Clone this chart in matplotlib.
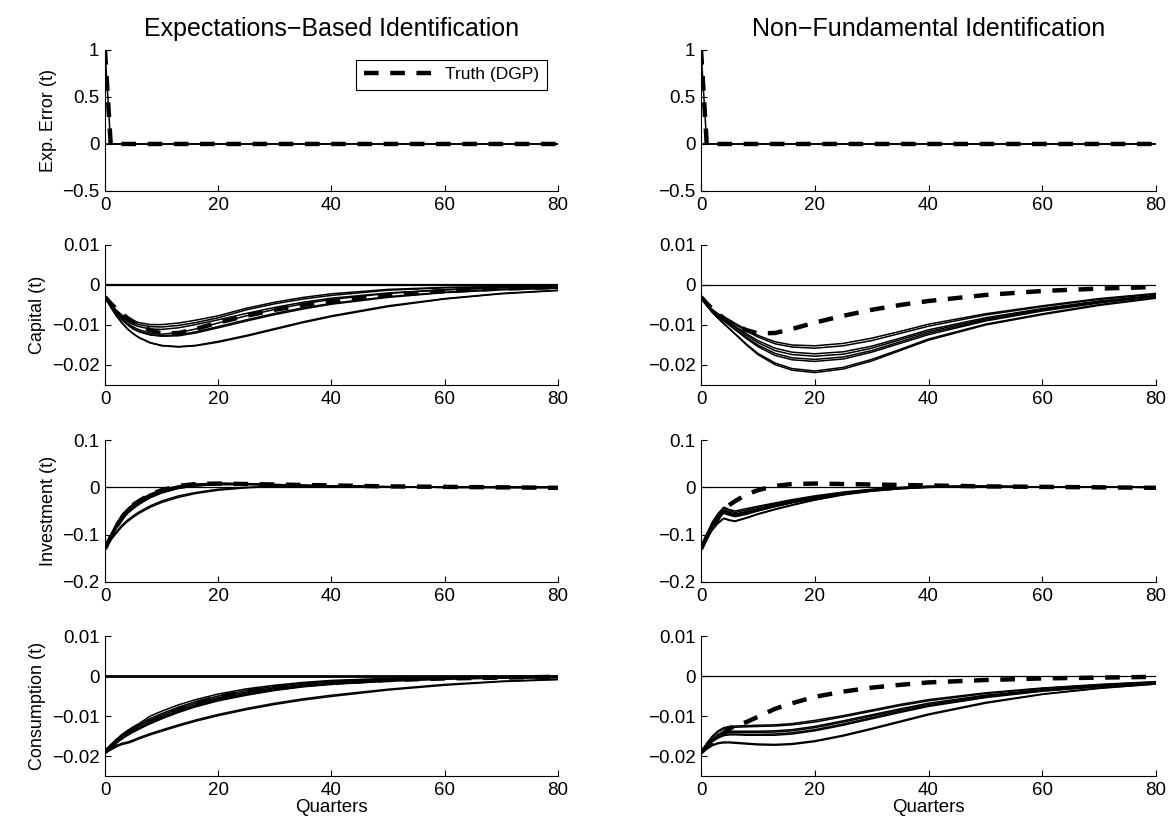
import numpy as np
import matplotlib.pyplot as plt
from matplotlib.ticker import FuncFormatter

plt.rcParams['font.family'] = ['Liberation Sans', 'DejaVu Sans']

# horizon (quarters) at which the responses are stored
Q = [0, 1, 2, 3, 4, 5, 6, 8, 10, 13, 16, 20, 25, 30, 35, 40, 50, 60, 70, 80]

# ---- true responses (DGP) ----
err_true = [1.0, 0, 0, 0, 0, 0, 0, 0, 0, 0, 0, 0, 0, 0, 0, 0, 0, 0, 0, 0]
cap_true = [-0.0030, -0.0046, -0.0060, -0.0072, -0.0083, -0.0092, -0.0100, -0.0113, -0.0121, -0.0120,
            -0.0110, -0.0094, -0.0077, -0.0062, -0.0050, -0.0040, -0.0025, -0.0015, -0.0009, -0.0005]
inv_true = [-0.130, -0.105, -0.083, -0.065, -0.046, -0.037, -0.029, -0.015, -0.006, 0.003,
            0.007, 0.008, 0.007, 0.006, 0.005, 0.004, 0.002, 0.001, 0.0, -0.001]
con_true = [-0.0190, -0.0177, -0.0165, -0.0153, -0.0142, -0.0132, -0.0124, -0.0115, -0.0102, -0.0082,
            -0.0068, -0.0052, -0.0039, -0.0029, -0.0022, -0.0016, -0.0010, -0.0006, -0.0004, -0.0002]

# ---- estimated responses, expectations-based identification ----
err_eb = [[1.0, 0, 0, 0, 0, 0, 0, 0, 0, 0, 0, 0, 0, 0, 0, 0, 0, 0, 0, 0]]
cap_eb = [
    [-0.003, -0.0048, -0.0063, -0.0075, -0.0084, -0.0090, -0.0094, -0.0099, -0.0099, -0.0095, -0.0088, -0.0077, -0.0058, -0.0043, -0.0031, -0.0022, -0.0011, -0.0006, -0.0004, -0.0003],
    [-0.003, -0.0049, -0.0065, -0.0077, -0.0087, -0.0094, -0.0099, -0.0104, -0.0105, -0.0101, -0.0094, -0.0082, -0.0062, -0.0047, -0.0035, -0.0026, -0.0013, -0.0007, -0.0005, -0.0004],
    [-0.003, -0.0050, -0.0067, -0.0080, -0.0091, -0.0099, -0.0104, -0.0110, -0.0111, -0.0107, -0.0099, -0.0087, -0.0071, -0.0056, -0.0043, -0.0033, -0.0020, -0.0012, -0.0007, -0.0005],
    [-0.003, -0.0051, -0.0069, -0.0084, -0.0096, -0.0105, -0.0112, -0.0120, -0.0123, -0.0119, -0.0110, -0.0095, -0.0077, -0.0061, -0.0047, -0.0036, -0.0021, -0.0012, -0.0007, -0.0004],
    [-0.003, -0.0052, -0.0071, -0.0087, -0.0099, -0.0109, -0.0116, -0.0124, -0.0127, -0.0125, -0.0117, -0.0104, -0.0087, -0.0071, -0.0057, -0.0046, -0.0029, -0.0018, -0.0011, -0.0007],
    [-0.003, -0.0052, -0.0071, -0.0087, -0.0100, -0.0110, -0.0117, -0.0125, -0.0128, -0.0127, -0.0120, -0.0107, -0.0090, -0.0074, -0.0060, -0.0048, -0.0031, -0.0019, -0.0012, -0.0008],
    [-0.003, -0.0055, -0.0077, -0.0095, -0.0110, -0.0122, -0.0132, -0.0145, -0.0152, -0.0155, -0.0152, -0.0143, -0.0128, -0.0111, -0.0094, -0.0079, -0.0054, -0.0035, -0.0022, -0.0014],
    [-0.003, -0.0055, -0.0077, -0.0095, -0.0110, -0.0122, -0.0131, -0.0144, -0.0151, -0.0154, -0.0151, -0.0141, -0.0126, -0.0109, -0.0092, -0.0077, -0.0052, -0.0034, -0.0021, -0.0013],
]
inv_eb = [
    [-0.128, -0.100, -0.077, -0.058, -0.045, -0.035, -0.027, -0.014, -0.005, 0.003, 0.007, 0.009, 0.008, 0.006, 0.004, 0.003, 0.0015, 0.0005, 0.0, 0.0],
    [-0.130, -0.102, -0.079, -0.060, -0.047, -0.037, -0.029, -0.016, -0.007, 0.002, 0.006, 0.008, 0.007, 0.006, 0.004, 0.003, 0.0015, 0.0005, 0.0, 0.0],
    [-0.132, -0.104, -0.082, -0.063, -0.050, -0.040, -0.032, -0.018, -0.009, 0.000, 0.005, 0.008, 0.007, 0.005, 0.004, 0.003, 0.001, 0.0005, 0.0, 0.0],
    [-0.128, -0.106, -0.085, -0.066, -0.053, -0.043, -0.034, -0.020, -0.010, -0.001, 0.004, 0.007, 0.007, 0.005, 0.004, 0.003, 0.001, 0.0, 0.0, 0.0],
    [-0.130, -0.108, -0.087, -0.068, -0.055, -0.045, -0.036, -0.022, -0.012, -0.002, 0.003, 0.006, 0.006, 0.005, 0.004, 0.003, 0.001, 0.0, 0.0, 0.0],
    [-0.126, -0.103, -0.083, -0.066, -0.054, -0.044, -0.035, -0.021, -0.011, -0.002, 0.003, 0.006, 0.006, 0.005, 0.003, 0.002, 0.001, 0.0, 0.0, 0.0],
    [-0.130, -0.112, -0.097, -0.083, -0.072, -0.063, -0.055, -0.042, -0.032, -0.021, -0.013, -0.006, -0.001, 0.002, 0.002, 0.002, 0.001, 0.0, 0.0, 0.0],
    [-0.128, -0.110, -0.094, -0.080, -0.069, -0.060, -0.052, -0.039, -0.029, -0.018, -0.011, -0.004, 0.000, 0.002, 0.002, 0.002, 0.001, 0.0, 0.0, 0.0],
]
con_eb = [
    [-0.0190, -0.0172, -0.0158, -0.0146, -0.0136, -0.0127, -0.0119, -0.0100, -0.0088, -0.0072, -0.0059, -0.0045, -0.0032, -0.0023, -0.0016, -0.0011, -0.0006, -0.0003, -0.0002, -0.0001],
    [-0.0190, -0.0174, -0.0160, -0.0148, -0.0138, -0.0129, -0.0121, -0.0106, -0.0094, -0.0078, -0.0064, -0.0050, -0.0036, -0.0026, -0.0018, -0.0013, -0.0007, -0.0004, -0.0002, -0.0001],
    [-0.0192, -0.0177, -0.0163, -0.0151, -0.0141, -0.0132, -0.0124, -0.0110, -0.0098, -0.0082, -0.0068, -0.0054, -0.0040, -0.0029, -0.0021, -0.0015, -0.0008, -0.0005, -0.0003, -0.0002],
    [-0.0190, -0.0178, -0.0166, -0.0155, -0.0145, -0.0136, -0.0128, -0.0114, -0.0102, -0.0086, -0.0072, -0.0057, -0.0043, -0.0032, -0.0024, -0.0018, -0.0010, -0.0006, -0.0004, -0.0003],
    [-0.0193, -0.0180, -0.0168, -0.0157, -0.0147, -0.0139, -0.0131, -0.0117, -0.0105, -0.0089, -0.0075, -0.0060, -0.0046, -0.0035, -0.0026, -0.0020, -0.0012, -0.0007, -0.0005, -0.0004],
    [-0.0188, -0.0178, -0.0167, -0.0157, -0.0148, -0.0140, -0.0133, -0.0119, -0.0107, -0.0091, -0.0077, -0.0062, -0.0048, -0.0036, -0.0027, -0.0021, -0.0013, -0.0008, -0.0005, -0.0004],
    [-0.0193, -0.0185, -0.0177, -0.0171, -0.0168, -0.0163, -0.0157, -0.0147, -0.0138, -0.0125, -0.0113, -0.0099, -0.0084, -0.0071, -0.0060, -0.0051, -0.0035, -0.0023, -0.0014, -0.0009],
    [-0.0190, -0.0182, -0.0174, -0.0168, -0.0165, -0.0160, -0.0154, -0.0144, -0.0135, -0.0122, -0.0110, -0.0096, -0.0081, -0.0068, -0.0057, -0.0048, -0.0033, -0.0021, -0.0013, -0.0008],
]

# ---- estimated responses, non-fundamental identification ----
err_nf = [[1.0, 0, 0, 0, 0, 0, 0, 0, 0, 0, 0, 0, 0, 0, 0, 0, 0, 0, 0, 0]]
cap_nf = [
    [-0.003, -0.0048, -0.0062, -0.0072, -0.0080, -0.0088, -0.0096, -0.0112, -0.0126, -0.0142, -0.0150, -0.0152, -0.0146, -0.0133, -0.0116, -0.0098, -0.0072, -0.0052, -0.0034, -0.0021],
    [-0.003, -0.0048, -0.0062, -0.0073, -0.0081, -0.0089, -0.0098, -0.0115, -0.0130, -0.0147, -0.0155, -0.0158, -0.0152, -0.0139, -0.0121, -0.0103, -0.0075, -0.0054, -0.0036, -0.0023],
    [-0.003, -0.0049, -0.0064, -0.0075, -0.0084, -0.0093, -0.0103, -0.0122, -0.0139, -0.0158, -0.0168, -0.0172, -0.0167, -0.0153, -0.0133, -0.0112, -0.0082, -0.0059, -0.0040, -0.0026],
    [-0.003, -0.0049, -0.0064, -0.0076, -0.0086, -0.0096, -0.0106, -0.0126, -0.0144, -0.0164, -0.0174, -0.0178, -0.0173, -0.0158, -0.0137, -0.0116, -0.0085, -0.0061, -0.0042, -0.0027],
    [-0.003, -0.0050, -0.0066, -0.0078, -0.0089, -0.0099, -0.0110, -0.0131, -0.0150, -0.0171, -0.0182, -0.0186, -0.0180, -0.0164, -0.0142, -0.0120, -0.0088, -0.0063, -0.0043, -0.0028],
    [-0.003, -0.0050, -0.0066, -0.0079, -0.0090, -0.0101, -0.0112, -0.0134, -0.0154, -0.0176, -0.0187, -0.0191, -0.0185, -0.0168, -0.0146, -0.0124, -0.0090, -0.0065, -0.0045, -0.0029],
    [-0.003, -0.0051, -0.0069, -0.0083, -0.0096, -0.0109, -0.0122, -0.0148, -0.0171, -0.0195, -0.0209, -0.0215, -0.0206, -0.0186, -0.0161, -0.0135, -0.0098, -0.0072, -0.0049, -0.0032],
    [-0.003, -0.0051, -0.0069, -0.0083, -0.0097, -0.0110, -0.0123, -0.0150, -0.0174, -0.0199, -0.0213, -0.0219, -0.0210, -0.0190, -0.0164, -0.0138, -0.0100, -0.0074, -0.0051, -0.0033],
]
inv_nf = [
    [-0.128, -0.098, -0.073, -0.055, -0.042, -0.047, -0.050, -0.045, -0.040, -0.033, -0.026, -0.018, -0.010, -0.004, 0.000, 0.002, 0.002, 0.001, 0.0005, 0.0],
    [-0.130, -0.100, -0.075, -0.057, -0.044, -0.050, -0.053, -0.048, -0.042, -0.035, -0.028, -0.020, -0.011, -0.005, -0.001, 0.002, 0.002, 0.001, 0.0005, 0.0],
    [-0.131, -0.102, -0.078, -0.060, -0.048, -0.053, -0.056, -0.051, -0.045, -0.037, -0.030, -0.021, -0.012, -0.005, -0.001, 0.002, 0.002, 0.001, 0.0005, 0.0],
    [-0.132, -0.103, -0.080, -0.062, -0.050, -0.055, -0.058, -0.053, -0.047, -0.039, -0.031, -0.022, -0.013, -0.006, -0.001, 0.001, 0.002, 0.001, 0.0005, 0.0],
    [-0.133, -0.105, -0.083, -0.065, -0.053, -0.057, -0.060, -0.055, -0.049, -0.040, -0.032, -0.023, -0.013, -0.006, -0.002, 0.001, 0.002, 0.001, 0.0005, 0.0],
    [-0.130, -0.104, -0.082, -0.064, -0.055, -0.059, -0.062, -0.057, -0.050, -0.041, -0.033, -0.024, -0.014, -0.007, -0.002, 0.001, 0.002, 0.001, 0.0005, 0.0],
    [-0.132, -0.110, -0.090, -0.076, -0.066, -0.070, -0.072, -0.065, -0.057, -0.047, -0.038, -0.027, -0.016, -0.008, -0.003, 0.000, 0.002, 0.001, 0.0005, 0.0],
    [-0.130, -0.108, -0.089, -0.074, -0.065, -0.069, -0.071, -0.064, -0.056, -0.046, -0.037, -0.026, -0.015, -0.008, -0.003, 0.000, 0.002, 0.001, 0.0005, 0.0],
]
con_nf = [
    [-0.0190, -0.0168, -0.0150, -0.0137, -0.0129, -0.0126, -0.0125, -0.0124, -0.0123, -0.0122, -0.0119, -0.0111, -0.0099, -0.0085, -0.0071, -0.0059, -0.0042, -0.0030, -0.0021, -0.0014],
    [-0.0192, -0.0170, -0.0153, -0.0140, -0.0132, -0.0129, -0.0128, -0.0127, -0.0126, -0.0125, -0.0122, -0.0115, -0.0102, -0.0088, -0.0074, -0.0062, -0.0044, -0.0031, -0.0022, -0.0015],
    [-0.0190, -0.0173, -0.0158, -0.0146, -0.0140, -0.0138, -0.0138, -0.0138, -0.0138, -0.0137, -0.0134, -0.0126, -0.0112, -0.0097, -0.0082, -0.0068, -0.0048, -0.0034, -0.0024, -0.0017],
    [-0.0193, -0.0175, -0.0160, -0.0149, -0.0143, -0.0141, -0.0141, -0.0141, -0.0141, -0.0140, -0.0137, -0.0129, -0.0115, -0.0100, -0.0085, -0.0071, -0.0050, -0.0035, -0.0025, -0.0017],
    [-0.0195, -0.0177, -0.0163, -0.0153, -0.0147, -0.0145, -0.0145, -0.0146, -0.0146, -0.0145, -0.0142, -0.0134, -0.0120, -0.0104, -0.0088, -0.0074, -0.0052, -0.0037, -0.0026, -0.0018],
    [-0.0192, -0.0177, -0.0164, -0.0155, -0.0149, -0.0147, -0.0147, -0.0148, -0.0148, -0.0148, -0.0145, -0.0137, -0.0123, -0.0107, -0.0091, -0.0076, -0.0054, -0.0038, -0.0027, -0.0019],
    [-0.0195, -0.0183, -0.0174, -0.0169, -0.0167, -0.0167, -0.0168, -0.0170, -0.0172, -0.0173, -0.0171, -0.0164, -0.0150, -0.0133, -0.0115, -0.0097, -0.0068, -0.0046, -0.0031, -0.0020],
    [-0.0193, -0.0181, -0.0172, -0.0167, -0.0165, -0.0165, -0.0166, -0.0168, -0.0170, -0.0171, -0.0169, -0.0162, -0.0148, -0.0131, -0.0113, -0.0095, -0.0066, -0.0045, -0.0030, -0.0020],
]

col_titles = ['Expectations\u2212Based Identification', 'Non\u2212Fundamental Identification']
row_labels = ['Exp. Error (t)', 'Capital (t)', 'Investment (t)', 'Consumption (t)']
row_ylims = [(-0.5, 1), (-0.025, 0.01), (-0.2, 0.1), (-0.025, 0.01)]
row_yticks = [[-0.5, 0, 0.5, 1], [-0.02, -0.01, 0, 0.01], [-0.2, -0.1, 0, 0.1], [-0.02, -0.01, 0, 0.01]]

estimates = [[err_eb, err_nf], [cap_eb, cap_nf], [inv_eb, inv_nf], [con_eb, con_nf]]
truths = [err_true, cap_true, inv_true, con_true]

# zero reference line is drawn heavier in a couple of panels
zero_lw = [[1.2, 1.2], [1.6, 0.9], [0.9, 0.9], [2.0, 0.9]]

# axes positions in figure fractions
col_left = [0.0899, 0.6002]
col_width = [0.3878, 0.3896]
row_bottom = [0.7688, 0.5339, 0.2954, 0.0605]
row_height = [0.1707, 0.1695, 0.1719, 0.1695]

fmt = FuncFormatter(lambda v, p: ('%g' % v).replace('-', '\u2212'))

fig = plt.figure(figsize=(11.68, 8.26), dpi=100)

for r in range(4):
    for c in range(2):
        ax = fig.add_axes([col_left[c], row_bottom[r], col_width[c], row_height[r]])
        for line in estimates[r][c]:
            ax.plot(Q, line, color='black', lw=1.1)
        ax.axhline(0, color='black', lw=zero_lw[r][c])
        h, = ax.plot(Q, truths[r], color='black', lw=3.2, linestyle=(0, (3.3, 2.6)),
                     label='Truth (DGP)')

        ax.set_xlim(0, 80)
        ax.set_ylim(*row_ylims[r])
        ax.set_xticks([0, 20, 40, 60, 80])
        ax.set_yticks(row_yticks[r])
        ax.yaxis.set_major_formatter(fmt)
        ax.tick_params(direction='in', length=4, width=0.8, labelsize=13.5, pad=4)
        ax.spines['top'].set_visible(False)
        ax.spines['right'].set_visible(False)

        if c == 0:
            ax.set_ylabel(row_labels[r], fontsize=13)
        if r == 0:
            ax.set_title(col_titles[c], fontsize=18, pad=10)
        if r == 3:
            ax.set_xlabel('Quarters', fontsize=13.5, labelpad=0)
        if r == 0 and c == 0:
            leg = ax.legend(handles=[h], loc='upper right', bbox_to_anchor=(0.975, 0.93),
                            fontsize=12.5, handlelength=4.2, fancybox=False, framealpha=1,
                            borderpad=0.42, handletextpad=0.5, borderaxespad=0)
            leg.get_frame().set_edgecolor('black')
            leg.get_frame().set_linewidth(0.8)

fig.savefig('out.png', dpi=100)
